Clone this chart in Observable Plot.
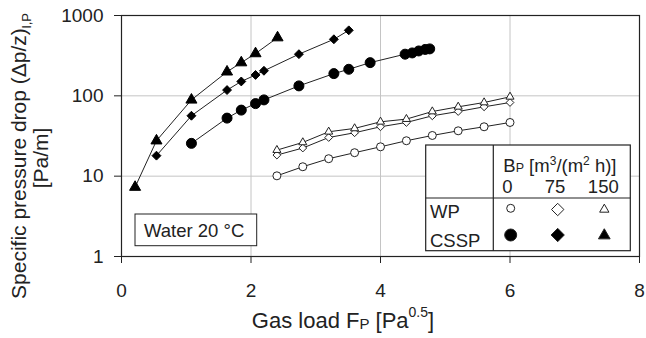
<!DOCTYPE html>
<html><head><meta charset="utf-8">
<script src="https://cdn.jsdelivr.net/npm/d3@7"></script>
<script src="https://cdn.jsdelivr.net/npm/@observablehq/plot@0.6"></script>
<style>
body{margin:0;background:#fff;}
#chart svg{display:block;}
</style>
</head><body><div id="chart"></div>
<script>
// ---- data ----
const xTicks = [0, 2, 4, 6, 8];
const yTicks = [1, 10, 100, 1000];
const bpLevels = ["0", "75", "150"];

const wpX     = [2.4, 2.8, 3.2, 3.6, 4.0, 4.4, 4.8, 5.2, 5.6, 6.0];
const wp0     = [10.1, 13.1, 16.5, 19.6, 23.2, 27.6, 32.1, 36.7, 41.2, 46.6];
const wp75    = [18.3, 22.4, 30.3, 34.7, 41.2, 46.6, 56.4, 63.8, 73, 82.6];
const wp150   = [21.1, 26.3, 35.7, 39.3, 47.5, 51.3, 63.8, 73, 82.6, 97.2];

const cssp0X   = [1.08, 1.63, 1.85, 2.07, 2.20, 2.74, 3.28, 3.51, 3.84, 4.38, 4.49, 4.59, 4.69, 4.76];
const cssp0    = [25.6, 52.8, 66.4, 80, 89, 133, 189, 214, 259, 330, 342, 362, 378, 384];
const cssp75X  = [0.54, 1.08, 1.63, 1.85, 2.07, 2.20, 2.74, 3.28, 3.51];
const cssp75   = [18, 56.5, 118, 151, 182, 205, 330, 506, 654];
const cssp150X = [0.21, 0.54, 1.08, 1.63, 1.85, 2.07, 2.41];
const cssp150  = [7.3, 27.6, 89, 199, 259, 336, 530];

const series = [
  {packing: "WP",   bp: "0",   xs: wpX,      ys: wp0},
  {packing: "WP",   bp: "75",  xs: wpX,      ys: wp75},
  {packing: "WP",   bp: "150", xs: wpX,      ys: wp150},
  {packing: "CSSP", bp: "0",   xs: cssp0X,   ys: cssp0},
  {packing: "CSSP", bp: "75",  xs: cssp75X,  ys: cssp75},
  {packing: "CSSP", bp: "150", xs: cssp150X, ys: cssp150}
];
const rows = series.flatMap(s => s.xs.map((x, i) => ({packing: s.packing, bp: s.bp, key: s.packing + s.bp, x, y: s.ys[i]})));

// marker styles
const style = {
  "WP0":     {symbol: "circle",   r: 4,   fill: "white", stroke: "#222"},
  "WP75":    {symbol: "diamond2", r: 3.5, fill: "white", stroke: "#222"},
  "WP150":   {symbol: "triangle", r: 3.0, fill: "white", stroke: "#222"},
  "CSSP0":   {symbol: "circle",   r: 5,   fill: "black", stroke: "black"},
  "CSSP75":  {symbol: "diamond2", r: 4,   fill: "black", stroke: "black"},
  "CSSP150": {symbol: "triangle", r: 4.1, fill: "black", stroke: "black"}
};

const dotMarks = series.map(s => {
  const k = s.packing + s.bp, st = style[k];
  return Plot.dot(rows.filter(d => d.key === k), {x: "x", y: "y", symbol: () => st.symbol, r: st.r, fill: st.fill, stroke: st.stroke, strokeWidth: 1});
});

const chart = Plot.plot({
  width: 646, height: 338,
  marginLeft: 121, marginRight: 7, marginTop: 15, marginBottom: 82,
  style: {fontFamily: "'Liberation Sans', Arial, sans-serif", fontSize: "19px", color: "#222", background: "white"},
  x: {domain: [0, 8]},
  y: {type: "log", domain: [1, 1000]},
  symbol: {domain: ["circle", "diamond2", "triangle"], range: ["circle", "diamond2", "triangle"]},
  marks: [
    Plot.gridX([2, 4, 6], {stroke: "#c4c4c4", strokeOpacity: 1, strokeWidth: 1}),
    Plot.gridY([10, 100], {stroke: "#c4c4c4", strokeOpacity: 1, strokeWidth: 1}),
    Plot.line(rows, {x: "x", y: "y", z: "key", stroke: "#222", strokeWidth: 1}),
    ...dotMarks,
    Plot.frame({stroke: "#222", strokeWidth: 1.2}),
    Plot.axisX({ticks: xTicks, tickSize: 7, tickPadding: 20, label: null, fill: "#222", stroke: "#222"}),
    Plot.axisY({ticks: yTicks, tickFormat: d3.format("d"), tickSize: 7, tickPadding: 11, label: null, fill: "#222", stroke: "#222"})
  ]
});
document.getElementById("chart").appendChild(chart);

// ---- annotations (axis titles, legend table, note box) ----
const svg = d3.select(chart);
const ff = "'Liberation Sans', Arial, sans-serif";
const g = svg.append("g").attr("font-family", ff).attr("fill", "#222").attr("text-anchor", "start");

// x-axis title
const xt = g.append("text").attr("x", 343).attr("y", 328).attr("text-anchor", "middle").attr("font-size", 22);
xt.append("tspan").text("Gas load F");
xt.append("tspan").attr("font-size", 15).attr("dy", 1).text("P");
xt.append("tspan").attr("dy", -1).text(" [Pa");
xt.append("tspan").attr("font-size", 14).attr("dy", -11).text("0.5");
xt.append("tspan").attr("dy", 11).text("]");

// y-axis title (two lines)
const yt1 = g.append("text").attr("transform", "translate(26,156) rotate(-90)").attr("text-anchor", "middle").attr("font-size", 21);
yt1.append("tspan").text("Specific pressure drop (Δp/z)");
yt1.append("tspan").attr("font-size", 13).attr("dy", 5).text("l,P");
g.append("text").attr("transform", "translate(48,158) rotate(-90)").attr("text-anchor", "middle").attr("font-size", 21).text("[Pa/m]");

// note box
g.append("rect").attr("x", 135).attr("y", 214).attr("width", 121.7).attr("height", 31.7).attr("fill", "white").attr("stroke", "#222").attr("stroke-width", 1);
g.append("text").attr("x", 144).attr("y", 236.5).attr("font-size", 18.5).text("Water 20 °C");

// legend table
const L = {x0: 425.7, x1: 493.3, x2: 630.3, y0: 145, y1: 198, y2: 250.7};
g.append("rect").attr("x", L.x0).attr("y", L.y0).attr("width", L.x2 - L.x0).attr("height", L.y2 - L.y0).attr("fill", "white").attr("stroke", "#222").attr("stroke-width", 1.2);
g.append("line").attr("x1", L.x1).attr("x2", L.x1).attr("y1", L.y0).attr("y2", L.y2).attr("stroke", "#222").attr("stroke-width", 1.2);
g.append("line").attr("x1", L.x0).attr("x2", L.x2).attr("y1", L.y1).attr("y2", L.y1).attr("stroke", "#222").attr("stroke-width", 1.2);

const hd = g.append("text").attr("x", 503.3).attr("y", 171.5).attr("font-size", 18.5);
hd.append("tspan").text("B");
hd.append("tspan").attr("font-size", 12.5).text("P");
hd.append("tspan").text(" [m");
hd.append("tspan").attr("font-size", 12).attr("dy", -7).text("3");
hd.append("tspan").attr("dy", 7).text("/(m");
hd.append("tspan").attr("font-size", 12).attr("dy", -7).text("2");
hd.append("tspan").attr("dy", 7).text(" h)]");

const colX = [507.3, 555, 603.3];
bpLevels.forEach((b, i) => g.append("text").attr("x", colX[i]).attr("y", 193).attr("text-anchor", "middle").attr("font-size", 18.5).text(b));

g.append("text").attr("x", 430).attr("y", 218).attr("font-size", 18.5).text("WP");
g.append("text").attr("x", 430).attr("y", 246.5).attr("font-size", 18.5).text("CSSP");

const legSym = [
  {type: d3.symbolCircle,   size: Math.PI * 16, x: 510.7, y: 208.3, fill: "white"},
  {type: d3.symbolDiamond2, size: 98,            x: 557.7, y: 209.5, fill: "white"},
  {type: d3.symbolTriangle, size: 37.5,          x: 604.3, y: 209.5, fill: "white"},
  {type: d3.symbolCircle,   size: Math.PI * 36, x: 510.7, y: 235,   fill: "black"},
  {type: d3.symbolDiamond2, size: 112,           x: 557.7, y: 235,   fill: "black"},
  {type: d3.symbolTriangle, size: 59,            x: 604.3, y: 235.5, fill: "black"}
];
legSym.forEach(s => g.append("path").attr("d", d3.symbol(s.type, s.size)()).attr("transform", `translate(${s.x},${s.y})`).attr("fill", s.fill).attr("stroke", "#222").attr("stroke-width", 1));
</script>
</body></html>
